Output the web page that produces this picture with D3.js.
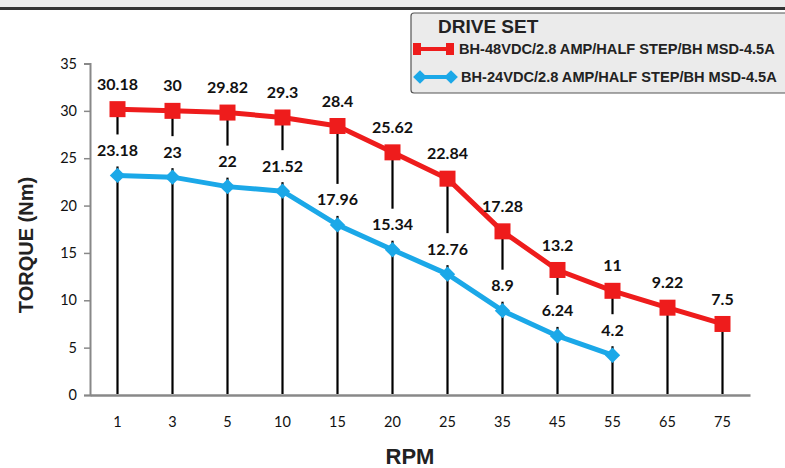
<!DOCTYPE html>
<html>
<head>
<meta charset="utf-8">
<script src="https://cdn.jsdelivr.net/npm/d3@7"></script>
<style>
  body { margin: 0; background: #fff; }
  svg { display: block; }
  .tick text { font-family: Lato, "Liberation Sans Narrow", sans-serif; font-size: 14.5px; fill: #111; }
</style>
</head>
<body>
<script>
var rpm = ["1", "3", "5", "10", "15", "20", "25", "35", "45", "55", "65", "75"];
var torque48 = [30.18, 30, 29.82, 29.3, 28.4, 25.62, 22.84, 17.28, 13.2, 11, 9.22, 7.5];
var torque24 = [23.18, 23, 22, 21.52, 17.96, 15.34, 12.76, 8.9, 6.24, 4.2];
var yTicks = [0, 5, 10, 15, 20, 25, 30, 35];
var seriesNames = ["BH-48VDC/2.8 AMP/HALF STEP/BH MSD-4.5A", "BH-24VDC/2.8 AMP/HALF STEP/BH MSD-4.5A"];

var width = 785, height = 468;
var red = "#ee1c1c", blue = "#1ba8e8";
var labelFont = "Lato, 'Open Sans', sans-serif";

var svg = d3.select("body").append("svg")
    .attr("width", width)
    .attr("height", height);

// top strip
svg.append("rect").attr("x", 0).attr("y", 0).attr("width", width).attr("height", 7).attr("fill", "#ebebeb");
svg.append("rect").attr("x", 0).attr("y", 7).attr("width", width).attr("height", 3).attr("fill", "#333");

var x = d3.scaleBand().domain(rpm).range([90, 750]);
var y = d3.scaleLinear().domain([0, 35]).range([395, 63.5]);
var cx = function(i) { return x(rpm[i]) + x.bandwidth() / 2; };

// axes
var yAxis = svg.append("g")
    .attr("transform", "translate(90,0)")
    .call(d3.axisLeft(y).tickValues(yTicks).tickSize(6).tickPadding(7));
yAxis.select(".domain").attr("stroke", "#888").attr("stroke-width", 2);
yAxis.selectAll(".tick line").attr("stroke", "#888").attr("stroke-width", 1.5);

var xAxis = svg.append("g")
    .attr("transform", "translate(0,395)")
    .call(d3.axisBottom(x).tickSize(0).tickPadding(22));
xAxis.select(".domain").attr("stroke", "#888").attr("stroke-width", 2.5);

// drop lines from the highest point to the axis
svg.append("g").selectAll("line")
  .data(rpm)
  .enter().append("line")
    .attr("x1", function(d, i) { return cx(i); })
    .attr("x2", function(d, i) { return cx(i); })
    .attr("y1", function(d, i) { return y(torque48[i]); })
    .attr("y2", y(0) - 1)
    .attr("stroke", "#000")
    .attr("stroke-width", 2.2);

// white boxes behind labels (hide the drop lines)
function labelBoxes(vals) {
  svg.append("g").selectAll("rect")
    .data(vals)
    .enter().append("rect")
      .attr("x", function(d, i) { return cx(i) - 23; })
      .attr("y", function(d) { return y(d) - 25 - 16; })
      .attr("width", 46)
      .attr("height", 32)
      .attr("fill", "#fff");
}
labelBoxes(torque24);

var line = d3.line()
    .x(function(d, i) { return cx(i); })
    .y(function(d) { return y(d); });

svg.append("path").datum(torque24)
    .attr("d", line).attr("fill", "none")
    .attr("stroke", blue).attr("stroke-width", 5).attr("stroke-linejoin", "round");
svg.append("path").datum(torque48)
    .attr("d", line).attr("fill", "none")
    .attr("stroke", red).attr("stroke-width", 5).attr("stroke-linejoin", "round");

var diamond = d3.symbol().type(d3.symbolDiamond2).size(150);
svg.append("g").selectAll("path")
  .data(torque24)
  .enter().append("path")
    .attr("transform", function(d, i) { return "translate(" + cx(i) + "," + y(d) + ")"; })
    .attr("d", diamond)
    .attr("fill", blue);

svg.append("g").selectAll("rect")
  .data(torque48)
  .enter().append("rect")
    .attr("x", function(d, i) { return cx(i) - 8; })
    .attr("y", function(d) { return y(d) - 8; })
    .attr("width", 16).attr("height", 16)
    .attr("fill", red);

// value labels
function labels(vals) {
  svg.append("g").selectAll("text")
    .data(vals)
    .enter().append("text")
      .attr("x", function(d, i) { return cx(i); })
      .attr("y", function(d) { return y(d) - 25; })
      .attr("dy", "0.35em")
      .attr("text-anchor", "middle")
      .attr("font-family", labelFont)
      .attr("font-weight", "bold")
      .attr("font-size", 16)
      .attr("fill", "#111")
      .text(function(d) { return d; });
}
labels(torque48);
labels(torque24);

// axis titles
svg.append("text")
    .attr("transform", "translate(33,245)rotate(-90)")
    .attr("text-anchor", "middle")
    .attr("font-family", "'Liberation Sans', Arial, sans-serif")
    .attr("font-weight", "bold")
    .attr("font-size", 20)
    .attr("fill", "#222")
    .text("TORQUE (Nm)");

svg.append("text")
    .attr("x", 410).attr("y", 464)
    .attr("text-anchor", "middle")
    .attr("font-family", "'Liberation Sans Narrow', 'Liberation Sans', sans-serif")
    .attr("font-weight", "bold")
    .attr("font-size", 22)
    .attr("fill", "#222")
    .text("RPM");

// legend
var lg = svg.append("g");
lg.append("rect")
    .attr("x", 411).attr("y", 13).attr("width", 390).attr("height", 80)
    .attr("rx", 3)
    .attr("fill", "#ebebeb").attr("stroke", "#555").attr("stroke-width", 1.2);
lg.append("text")
    .attr("x", 438).attr("y", 33)
    .attr("font-family", "'Liberation Sans', Arial, sans-serif")
    .attr("font-weight", "bold").attr("font-size", 19)
    .attr("fill", "#222")
    .text("DRIVE SET");

lg.append("line").attr("x1", 417).attr("x2", 450).attr("y1", 49).attr("y2", 49)
    .attr("stroke", red).attr("stroke-width", 4);
[417, 450].forEach(function(px) {
  lg.append("rect").attr("x", px - 4).attr("y", 43).attr("width", 8).attr("height", 12).attr("fill", red);
});
lg.append("line").attr("x1", 420).attr("x2", 451).attr("y1", 77).attr("y2", 77)
    .attr("stroke", blue).attr("stroke-width", 4);
[420, 451].forEach(function(px) {
  lg.append("path").attr("transform", "translate(" + px + ",77)")
    .attr("d", d3.symbol().type(d3.symbolDiamond2).size(120)).attr("fill", blue);
});

lg.selectAll("text.item")
  .data(seriesNames)
  .enter().append("text")
    .attr("class", "item")
    .attr("x", function(d, i) { return i === 0 ? 459 : 461; })
    .attr("y", function(d, i) { return i === 0 ? 49 : 77; })
    .attr("dy", "0.35em")
    .attr("font-family", "'Liberation Sans', Arial, sans-serif")
    .attr("font-weight", "bold").attr("font-size", 14.6)
    .attr("fill", "#222")
    .text(function(d) { return d; });
</script>
</body>
</html>
